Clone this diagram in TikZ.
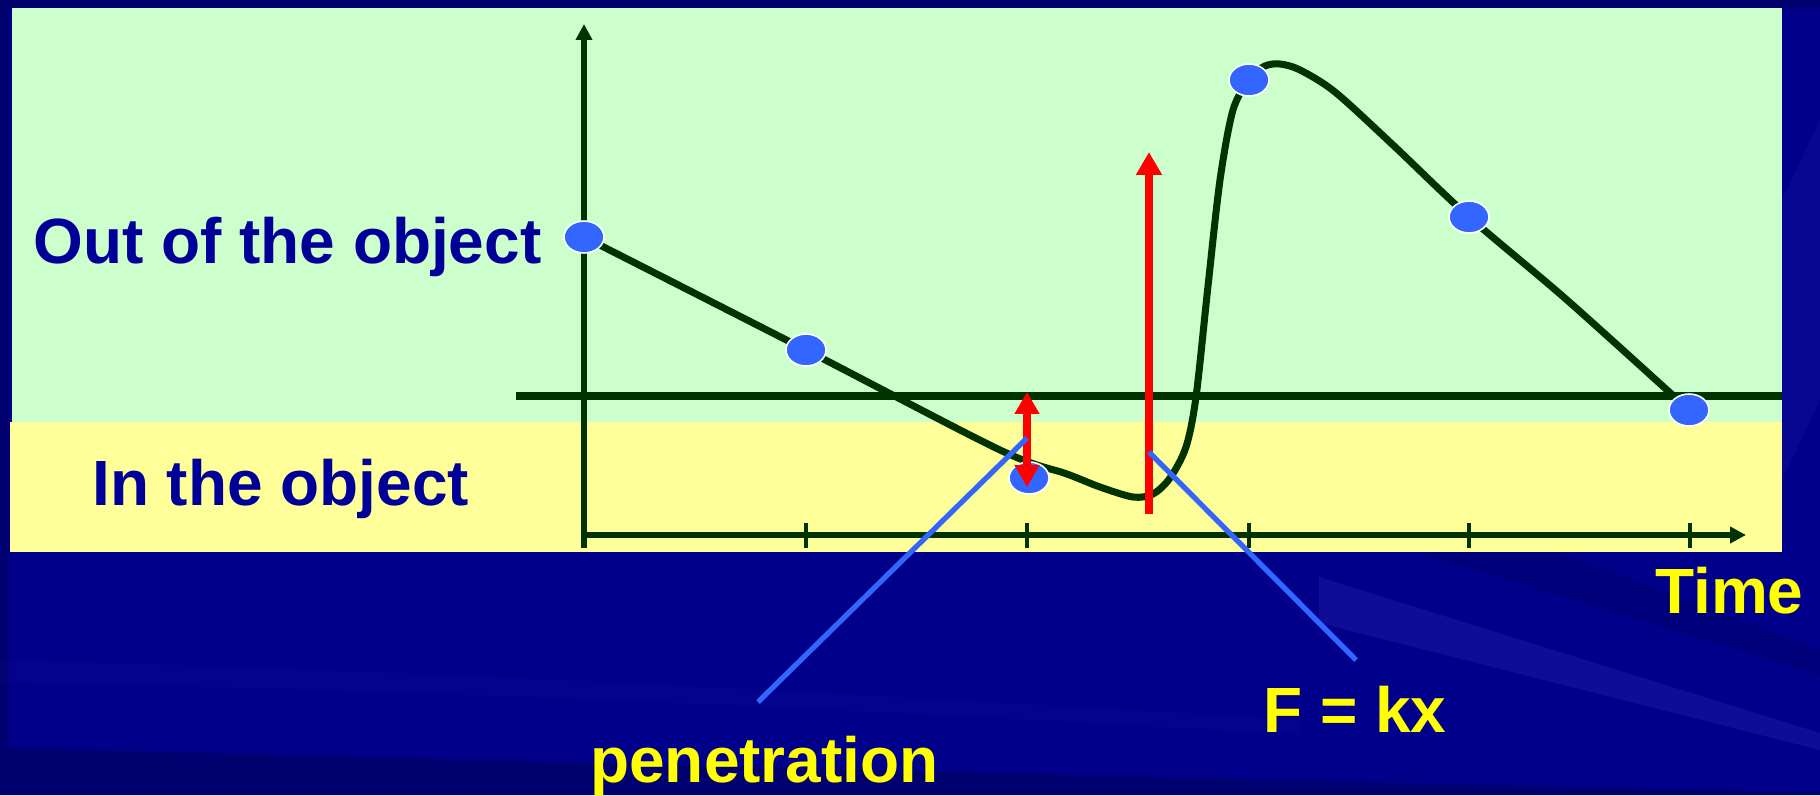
\documentclass[tikz,border=0pt]{standalone}
\usepackage{fontspec}
\setmainfont{Liberation Sans}
\usetikzlibrary{arrows.meta,shapes.geometric}
\definecolor{bgblue}{HTML}{00008A}
\definecolor{bgdark}{HTML}{00006E}
\definecolor{bglight}{HTML}{1A1AA6}
\definecolor{boxgreen}{HTML}{CCFFCC}
\definecolor{boxyellow}{HTML}{FFFF99}
\definecolor{dkgreen}{HTML}{003300}
\definecolor{dotblue}{HTML}{3366FF}
\definecolor{labelblue}{HTML}{000099}
\definecolor{txtyellow}{HTML}{FFFF00}
\begin{document}
\begin{tikzpicture}[x=0.02cm,y=-0.02cm,
  lbl/.style={font=\fontsize{36.4pt}{40pt}\selectfont\bfseries, inner sep=0pt, anchor=base west},
  dk/.style={lbl, text=labelblue},
  yl/.style={lbl, text=txtyellow},
  dot/.style={ellipse, fill=dotblue, draw=white, line width=0.9pt, minimum width=0.8cm, minimum height=0.64cm, inner sep=0pt},
  axisline/.style={draw=dkgreen, line width=2.9pt},
  tickline/.style={draw=dkgreen, line width=2pt},
  redarr/.style={draw=red, line width=4pt},
  ptr/.style={draw=dotblue, line width=3pt},
  axtip/.tip={Triangle[width=9pt,length=9pt]},
  redtip/.tip={Triangle[width=13.5pt,length=12.5pt]}
]
\useasboundingbox (0,0) rectangle (1820,795);
% background
\fill[bgblue] (0,0) rectangle (1820,795);
\fill[bgdark] (0,0) rectangle (1820,8);
\fill[bgdark] (0,0) rectangle (9,795);
\fill[bgdark] (0,748) .. controls (600,762) and (1200,780) .. (1820,792) -- (1820,795) -- (0,795) -- cycle;
\fill[bglight, opacity=0.15] (0,660) .. controls (400,670) and (800,690) .. (1300,720) -- (1300,735) .. controls (800,705) and (400,690) .. (0,682) -- cycle;
\fill[bglight, opacity=0.5] (1319,577) -- (1820,733) -- (1820,750) -- (1319,623) -- cycle;
\fill[bgdark, opacity=0.5] (1420,553) -- (1560,553) -- (1820,650) -- (1820,675) -- cycle;
\fill[bglight, opacity=0.3] (1782,200) -- (1820,120) -- (1820,400) -- (1782,480) -- cycle;
% boxes
\fill[boxgreen] (12,8) rectangle (1782,424);
\fill[boxyellow] (10,422) rectangle (1782,552);
% axes
\coordinate (yo) at (584,548);
\coordinate (ytop) at (584,24);
\coordinate (xo) at (584,535);
\coordinate (xend) at (1746,535);
\draw[axisline, -axtip] (yo) -- (ytop);
\draw[axisline, -axtip] (xo) -- (xend);
\foreach \x in {806,1027,1249,1469,1690}
  \draw[tickline] (\x,523) -- (\x,548);
% surface line
\coordinate (sl) at (516,396);
\coordinate (sr) at (1782,396);
\draw[dkgreen, line width=4.2pt] (sl) -- (sr);
% trajectory
\draw[dkgreen, line width=4pt, line join=round, line cap=round]
  plot[smooth, tension=0.5] coordinates {
  (584,237) (806,350) (1000,450) (1067,474) (1100,487) (1133,497) (1153,494)
  (1170,478) (1186,447) (1196,397) (1208,286) (1220,180) (1233,110) (1250,78)
  (1265,66) (1280,64) (1300,70) (1335,92) (1393,145) (1468,216) (1567,300) (1689,410)};
% sample points
\node[dot] (p1) at (584,237) {};
\node[dot] (p2) at (806,350) {};
\node[dot] (p3) at (1029,478) {};
\node[dot] (p4) at (1249,80) {};
\node[dot] (p5) at (1469,217) {};
\node[dot] (p6) at (1689,410) {};
% red arrows
\coordinate (ra1) at (1027,392);
\coordinate (ra2) at (1027,487);
\draw[redarr, redtip-redtip] (ra1) -- (ra2);
\coordinate (rb1) at (1149,514);
\coordinate (rb2) at (1149,152);
\draw[redarr, -{Triangle[width=14pt,length=13pt]}] (rb1) -- (rb2);
% labels
\node[dk] (out) at (33,263) {Out of the object};
\node[dk] (in) at (92,505) {In the object};
\node[yl] (time) at (1655,613) {Time};
\node[yl] (fkx) at (1263,732) {F = kx};
\node[yl] (pen) at (590,782) {penetration};
% pointers
\coordinate (pa) at (1027,438);
\coordinate (pb) at (758,702);
\coordinate (pc) at (1149,452);
\coordinate (pd) at (1356,660);
\draw[ptr] (pa) -- (pb);
\draw[ptr] (pc) -- (pd);
\end{tikzpicture}
\end{document}
